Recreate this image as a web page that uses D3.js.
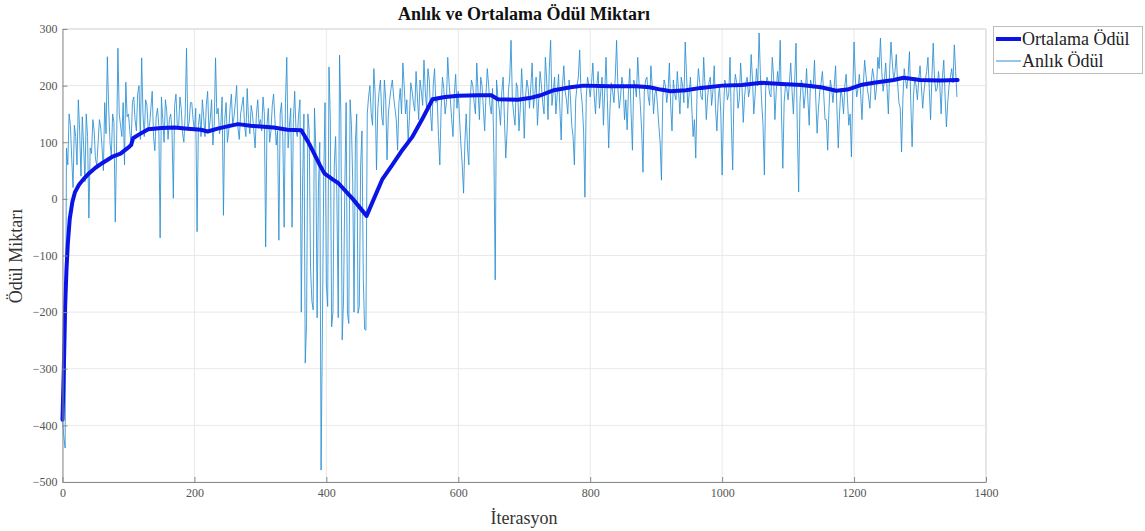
<!DOCTYPE html>
<html>
<head>
<meta charset="utf-8">
<script src="https://cdn.jsdelivr.net/npm/d3@7"></script>
<style>
  html, body { margin: 0; padding: 0; background: #fff; }
  svg { display: block; font-family: "Liberation Serif", "DejaVu Serif", serif; }
</style>
</head>
<body>
<svg id="chart" width="1145" height="531"></svg>
<script>
// Instant reward per episode at iterations 0, 4, 8, ...
const rewardQuarter = [
  // 0 - 96
  -390, -440, 60, 130, 20, 110, 175, 40, 95, 150, -34, 80, 120, 60, 140, 90, 170, 251, 100, 150, -41, 266, 130, 170, 206,
  // 100 - 196
  150, 95, 180, 120, 200, 249, 110, 165, 130, 190, 85, 160, -69, 140, 175, 105, 150, 1, 185, 125, 160, 100, 266, 135, 170,
  // 200 - 296
  120, -58, 150, 175, 110, 190, 140, 95, 249, 160, 130, -29, 170, 120, 185, 145, 200, 105, 165, 130, 195, 115, 150, 90, 175,
  // 300 - 396
  140, 180, -85, 160, 120, 185, 95, -73, 170, -50, 250, 130, -50, 190, 110, 175, 30, -290, 150, -120, -196, 90, 20, -479, 40,
  // 400 - 496
  -150, 233, -226, 60, 0, 254, -249, 20, -202, 175, 30, 100, -202, 60, -140, -232, 180, 150, 230, 51, 190, 145, 210, 69, 175,
  // 500 - 596
  210, 160, 86, 195, 240, 150, 99, 205, 170, 225, 140, 190, 245, 160, 210, 120, 230, 180, 60, 215, 150, 250, 175, 110, 220,
  // 600 - 696
  190, 95, 10, 150, 60, 210, 170, 240, 140, 200, 120, 230, 165, 195, -143, 180, 130, 215, 72, 190, 280, 150, 205, 120, 230,
  // 700 - 796
  107, 210, 160, 240, 185, 130, 225, 170, 250, 140, 280, 190, 150, 220, 104, 235, 175, 210, 130, 60, 200, 263, 165, 3, 215,
  // 800 - 896
  180, 240, 150, 225, 190, 130, 250, 90, 205, 170, 280, 160, 215, 140, 122, 230, 86, 200, 250, 165, 47, 210, 180, 235, 150,
  // 900 - 996
  195, 130, 33, 210, 170, 240, 120, 185, 225, 150, 200, 277, 160, 215, 110, 72, 230, 180, 250, 140, 205, 165, 235, 120, 200,
  // 1000 - 1096
  42, 210, 175, 250, 51, 220, 160, 240, 135, 205, 180, 255, 150, 230, 293, 170, 42, 215, 185, 250, 140, 225, 280, 54, 200,
  // 1100 - 1196
  175, 240, 150, 275, 12, 210, 160, 230, 130, 200, 245, 116, 190, 225, 140, 86, 210, 170, 235, 90, 195, 150, 220, 130, 74,
  // 1200 - 1296
  277, 180, 220, 140, 245, 195, 160, 230, 175, 250, 284, 190, 240, 150, 277, 210, 255, 170, 83, 230, 195, 260, 92, 215, 175,
  // 1300 - 1356
  235, 160, 210, 250, 140, 275, 190, 225, 150, 245, 127, 200, 230, 272, 180
];

// Instant reward per episode at iterations 2, 6, 10, ...
const rewardBetween = [
  // 2 - 98
  -420, 90, 150, 70, 130, 60, 120, 145, 30, 110, 90, 140, 70, 100, 125, 50, 115, 160, 75, 135, 95, 150, 110, 60, 145,
  // 102 - 198
  120, 170, 140, 185, 105, 150, 175, 120, 160, 110, 145, 130, 180, 100, 155, 140, 120, 165, 130, 180, 115, 150, 125, 170, 140,
  // 202 - 298
  160, 130, 110, 145, 165, 120, 175, 130, 150, 115, 180, 140, 100, 160, 130, 170, 125, 150, 180, 110, 140, 165, 120, 150, 130,
  // 302 - 398
  120, 150, 130, 100, 165, 140, 120, 150, 110, 170, 90, 160, 140, 120, 150, -200, 150, -220, 120, -180, 160, -210, 100, -230, 170,
  // 402 - 498
  -190, 140, -200, 110, -210, 150, -180, 170, -220, 130, -200, 150, -190, 120, -230, 150, 200, 130, 185, 160, 210, 130, 175, 150, 195,
  // 502 - 598
  180, 140, 170, 150, 200, 175, 145, 190, 155, 180, 210, 165, 190, 230, 150, 200, 170, 110, 160, 195, 170, 205, 140, 185, 160,
  // 602 - 698
  140, 60, 100, 90, 175, 200, 150, 190, 215, 160, 185, 200, 150, 80, 210, 160, 190, 140, 120, 215, 175, 130, 195, 160, 185,
  // 702 - 798
  180, 195, 200, 160, 215, 175, 200, 150, 210, 230, 165, 215, 185, 160, 200, 190, 150, 180, 110, 175, 215, 190, 120, 180, 200,
  // 802 - 898
  205, 185, 200, 160, 215, 190, 175, 160, 190, 215, 195, 180, 200, 175, 190, 150, 210, 180, 205, 120, 190, 215, 165, 200, 185,
  // 902 - 998
  165, 100, 180, 200, 190, 165, 210, 175, 190, 215, 170, 220, 185, 160, 140, 190, 205, 175, 200, 180, 215, 190, 160, 175, 150,
  // 1002 - 1098
  150, 200, 185, 130, 190, 205, 175, 200, 180, 215, 195, 210, 185, 200, 220, 130, 195, 205, 180, 215, 190, 200, 150, 170, 195,
  // 1102 - 1198
  205, 190, 210, 120, 170, 200, 185, 175, 210, 195, 175, 160, 205, 185, 140, 160, 195, 200, 160, 150, 180, 200, 175, 150, 190,
  // 1202 - 1298
  210, 195, 185, 200, 220, 180, 205, 215, 195, 230, 225, 210, 195, 230, 240, 225, 205, 160, 175, 210, 220, 170, 180, 200, 210,
  // 1302 - 1354
  200, 190, 225, 195, 215, 210, 195, 200, 215, 180, 170, 215, 205, 225
];

// Running average reward (100-episode window)
const avgIteration = [0, 2, 4, 6, 8, 11, 15, 19, 25, 32, 40, 50, 60, 75, 88, 99, 104, 107, 115, 130,
  150, 170, 190, 210, 220, 235, 250, 266, 285, 300, 320, 341, 362, 375, 390, 397, 410, 418, 440, 461,
  472, 485, 500, 515, 530, 545, 561, 580, 600, 630, 650, 660, 690, 708, 725, 745, 770, 790, 830, 870,
  890, 907, 922, 945, 968, 1000, 1030, 1060, 1090, 1120, 1150, 1173, 1190, 1210, 1230, 1260, 1275, 1300, 1330, 1357];
const avgReward = [-390, -300, -190, -126, -80, -35, -5, 12, 25, 35, 45, 55, 63, 74, 80, 90, 95, 107, 113, 123,
  125, 126, 124, 122, 119, 124, 128, 132, 129, 128, 126, 122, 121, 95, 60, 45, 34, 28, 0, -30,
  0, 35, 60, 86, 109, 140, 176, 180, 182, 183, 183, 176, 175, 178, 183, 192, 197, 200, 199, 199,
  197, 193, 190, 192, 196, 200, 201, 205, 203, 201, 197, 191, 193, 201, 205, 210, 214, 210, 209, 210];

const xTicks = [0, 200, 400, 600, 800, 1000, 1200, 1400];
const yTicks = [-500, -400, -300, -200, -100, 0, 100, 200, 300];

const titleText = "Anlık ve Ortalama Ödül Miktarı";
const xLabel = "İterasyon";
const yLabel = "Ödül Miktarı";
const seriesNames = ["Ortalama Ödül", "Anlık Ödül"];

// Combine both sample sets into one iteration-ordered series
const instantPoints = rewardQuarter.map((v, i) => [i * 4, v])
  .concat(rewardBetween.map((v, i) => [i * 4 + 2, v]))
  .sort((a, b) => a[0] - b[0]);
const avgPoints = avgIteration.map((it, i) => [it, avgReward[i]]);

const svg = d3.select("#chart");
const plot = { left: 62.5, right: 986, top: 29, bottom: 482 };

const x = d3.scaleLinear().domain([0, 1400]).range([plot.left, plot.right]);
const y = d3.scaleLinear().domain([-500, 300]).range([plot.bottom, plot.top]);

svg.append("rect").attr("width", 1145).attr("height", 531).attr("fill", "#fff");

// Grid
const grid = svg.append("g").attr("stroke", "#e9e9e9").attr("stroke-width", 1);
grid.selectAll("line.vx").data(xTicks).join("line")
  .attr("x1", d => x(d)).attr("x2", d => x(d))
  .attr("y1", plot.top).attr("y2", plot.bottom);
grid.selectAll("line.hy").data(yTicks).join("line")
  .attr("x1", plot.left).attr("x2", plot.right)
  .attr("y1", d => y(d)).attr("y2", d => y(d));

// Box (top / right)
svg.append("path")
  .attr("d", `M${plot.left},${plot.top}H${plot.right}V${plot.bottom}`)
  .attr("fill", "none").attr("stroke", "#d8d8d8").attr("stroke-width", 1);

const line = d3.line().x(d => x(d[0])).y(d => y(d[1]));

// Instant reward line
svg.append("path")
  .datum(instantPoints)
  .attr("d", line)
  .attr("fill", "none")
  .attr("stroke", "#2a8fd2")
  .attr("stroke-opacity", 0.85)
  .attr("stroke-width", 1)
  .attr("stroke-linejoin", "round");

// Average reward line
svg.append("path")
  .datum(avgPoints)
  .attr("d", line)
  .attr("fill", "none")
  .attr("stroke", "#0a14e6")
  .attr("stroke-width", 4)
  .attr("stroke-linejoin", "round")
  .attr("stroke-linecap", "round");

// Axes
const xAxis = d3.axisBottom(x).tickValues(xTicks).tickFormat(d3.format("d"))
  .tickSizeInner(-5).tickSizeOuter(0).tickPadding(6);
const yAxis = d3.axisLeft(y).tickValues(yTicks).tickFormat(d3.format("d"))
  .tickSizeInner(-5).tickSizeOuter(0).tickPadding(5);

const gx = svg.append("g").attr("transform", `translate(0,${plot.bottom})`).call(xAxis);
const gy = svg.append("g").attr("transform", `translate(${plot.left},0)`).call(yAxis);
[gx, gy].forEach(g => {
  g.select(".domain").attr("stroke", "#8a8a8a");
  g.selectAll(".tick line").attr("stroke", "#8a8a8a");
  g.selectAll(".tick text")
    .attr("fill", "#555")
    .attr("font-family", "Liberation Serif, serif")
    .attr("font-size", 12);
});

// Title
svg.append("text")
  .attr("x", 524).attr("y", 20)
  .attr("text-anchor", "middle")
  .attr("font-weight", "bold")
  .attr("font-size", 18)
  .attr("fill", "#111")
  .text(titleText);

// Axis labels
svg.append("text")
  .attr("x", 524).attr("y", 524)
  .attr("text-anchor", "middle")
  .attr("font-size", 18)
  .attr("fill", "#333")
  .text(xLabel);
svg.append("text")
  .attr("transform", "translate(22,256) rotate(-90)")
  .attr("text-anchor", "middle")
  .attr("font-size", 18)
  .attr("fill", "#333")
  .text(yLabel);

// Legend
const legend = svg.append("g");
legend.append("rect")
  .attr("x", 993.5).attr("y", 26.5).attr("width", 149).attr("height", 47)
  .attr("fill", "#fff").attr("stroke", "#bdbdbd").attr("stroke-width", 1);
const legendStyles = [
  { color: "#0a14e6", width: 4 },
  { color: "#2a8fd2", width: 1 }
];
seriesNames.forEach((name, i) => {
  const cy = 39 + i * 22;
  legend.append("line")
    .attr("x1", 996).attr("x2", 1021)
    .attr("y1", cy).attr("y2", cy)
    .attr("stroke", legendStyles[i].color)
    .attr("stroke-width", legendStyles[i].width);
  legend.append("text")
    .attr("x", 1022).attr("y", cy + 6)
    .attr("font-size", 18)
    .attr("fill", "#222")
    .text(name);
});
</script>
</body>
</html>
